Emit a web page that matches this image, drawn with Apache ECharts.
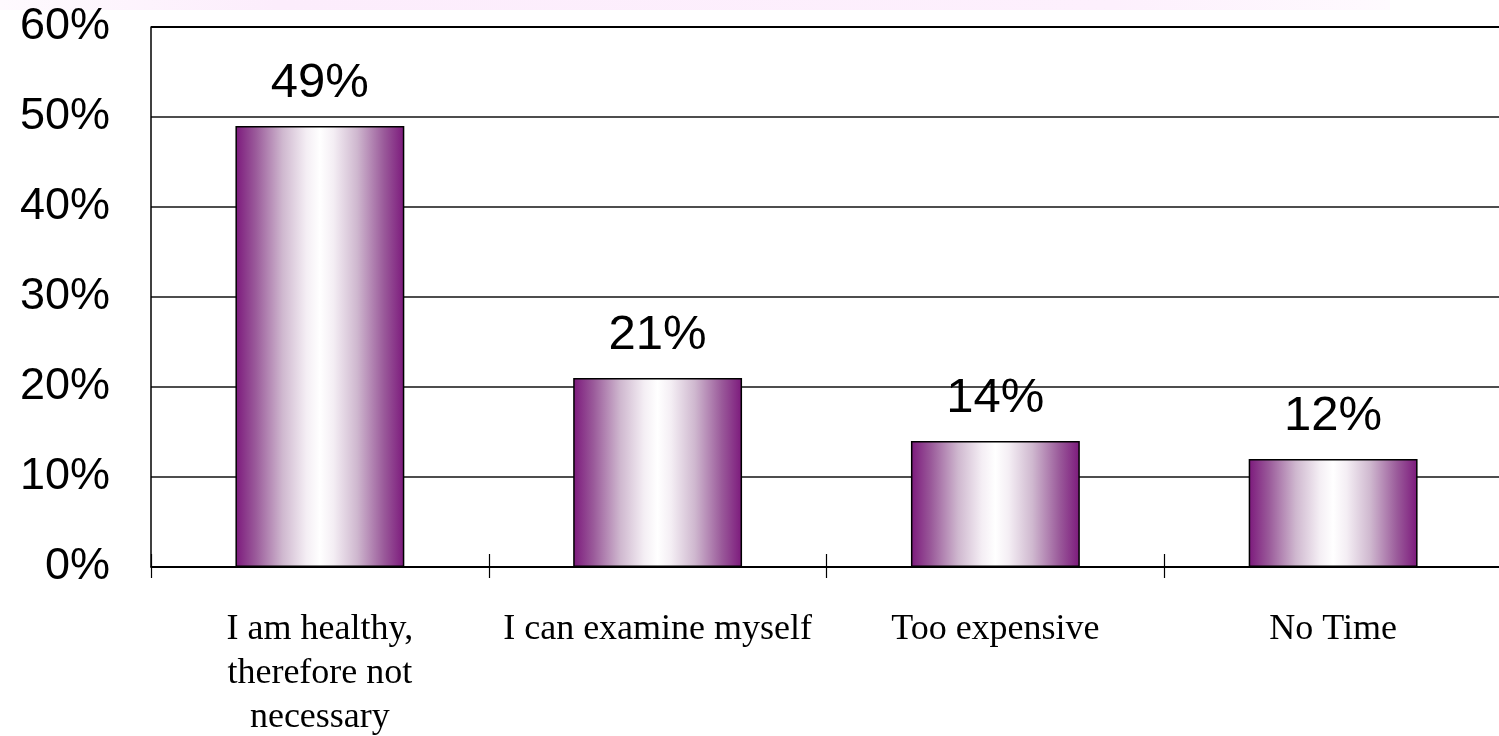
<!DOCTYPE html>
<html>
<head>
<meta charset="utf-8">
<script src="https://cdn.jsdelivr.net/npm/echarts@6/dist/echarts.min.js"></script>
<style>
html,body{margin:0;padding:0;background:#fff;}
#chart{width:1499px;height:736px;}
</style>
</head>
<body>
<div id="chart"></div>
<script>
const categories = ['I am healthy,\ntherefore not\nnecessary', 'I can examine myself', 'Too expensive', 'No Time'];
const values = [49, 21, 14, 12];
const yMin = 0, yMax = 60, yStep = 10;

const chart = echarts.init(document.getElementById('chart'), null, {renderer: 'canvas'});
const barGradient = new echarts.graphic.LinearGradient(0, 0, 1, 0, [
  {offset: 0, color: '#7c197c'},
  {offset: 0.12, color: '#9a5a9a'},
  {offset: 0.28, color: '#cfb8cf'},
  {offset: 0.42, color: '#f4eef4'},
  {offset: 0.5, color: '#ffffff'},
  {offset: 0.58, color: '#f4eef4'},
  {offset: 0.72, color: '#cfb8cf'},
  {offset: 0.88, color: '#9a5a9a'},
  {offset: 1, color: '#7c197c'}
]);
chart.setOption({
  animation: false,
  backgroundColor: '#ffffff',
  graphic: [{
    type: 'rect', left: 0, top: 0, z: -1,
    shape: {width: 1390, height: 10},
    style: {fill: new echarts.graphic.LinearGradient(0, 0, 1, 0, [
      {offset: 0, color: '#fefafe'},
      {offset: 0.2, color: '#fcedfc'},
      {offset: 0.8, color: '#fdf0fd'},
      {offset: 1, color: '#fefafe'}
    ])}
  }],
  grid: {left: 151, top: 27, width: 1351, bottom: 169, containLabel: false, outerBoundsMode: 'none'},
  xAxis: [{
    type: 'category',
    data: categories,
    position: 'bottom',
    axisLine: {lineStyle: {color: '#000', width: 1.5}},
    axisTick: {show: true, inside: false, length: 11, lineStyle: {color: '#000', width: 1.2}},
    axisLabel: {
      interval: 0, margin: 41, color: '#000',
      fontFamily: '"Liberation Serif", "DejaVu Serif", serif', fontSize: 36, lineHeight: 44
    },
    splitLine: {show: false}
  }, {
    type: 'category',
    data: categories,
    position: 'bottom',
    axisLine: {show: false},
    axisTick: {show: true, inside: true, length: 13, lineStyle: {color: '#000', width: 1.2}},
    axisLabel: {show: false},
    splitLine: {show: false}
  }],
  yAxis: {
    type: 'value',
    min: yMin, max: yMax, interval: yStep,
    axisLine: {show: true, lineStyle: {color: '#000', width: 1.5}},
    axisTick: {show: false},
    axisLabel: {
      formatter: '{value}%', margin: 41, color: '#000',
      fontFamily: '"Liberation Sans", Arial, sans-serif', fontSize: 45
    },
    splitLine: {show: true, lineStyle: {color: ['#000', '#4d4d4d', '#4d4d4d', '#4d4d4d', '#4d4d4d', '#4d4d4d', '#000'], width: 2}}
  },
  series: [{
    type: 'bar',
    data: values,
    barWidth: '50%',
    itemStyle: {color: barGradient, borderColor: '#000', borderWidth: 1.5},
    label: {
      show: true, position: 'top', distance: 18,
      formatter: '{c}%', color: '#000',
      fontFamily: '"Liberation Sans", Arial, sans-serif', fontSize: 49
    }
  }]
});
</script>
</body>
</html>
